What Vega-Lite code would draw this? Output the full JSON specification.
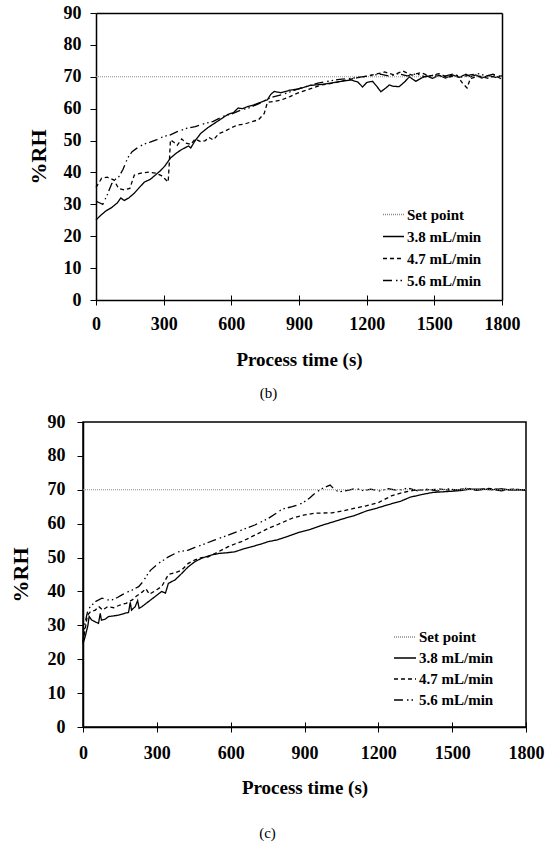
{
  "$schema": "https://vega.github.io/schema/vega-lite/v6.json",
  "padding": {"left": 8, "top": 4, "right": 0, "bottom": 0},
  "datasets": {
    "b": [
      {"t": 0, "v": 70, "s": "Set point"}, {"t": 1800, "v": 70, "s": "Set point"},
      {"t": 0, "v": 25.1, "s": "3.8 mL/min"}, {"t": 20, "v": 26.5, "s": "3.8 mL/min"}, {"t": 45, "v": 28, "s": "3.8 mL/min"}, {"t": 70, "v": 29, "s": "3.8 mL/min"},
      {"t": 95, "v": 30.5, "s": "3.8 mL/min"}, {"t": 110, "v": 32, "s": "3.8 mL/min"}, {"t": 125, "v": 31.2, "s": "3.8 mL/min"}, {"t": 145, "v": 32, "s": "3.8 mL/min"},
      {"t": 170, "v": 33.5, "s": "3.8 mL/min"}, {"t": 195, "v": 35.5, "s": "3.8 mL/min"}, {"t": 215, "v": 37, "s": "3.8 mL/min"}, {"t": 240, "v": 37.8, "s": "3.8 mL/min"},
      {"t": 260, "v": 39, "s": "3.8 mL/min"}, {"t": 285, "v": 40.5, "s": "3.8 mL/min"}, {"t": 305, "v": 42, "s": "3.8 mL/min"}, {"t": 330, "v": 44.5, "s": "3.8 mL/min"},
      {"t": 355, "v": 46, "s": "3.8 mL/min"}, {"t": 380, "v": 47.2, "s": "3.8 mL/min"}, {"t": 410, "v": 48.3, "s": "3.8 mL/min"}, {"t": 420, "v": 47.7, "s": "3.8 mL/min"},
      {"t": 440, "v": 50, "s": "3.8 mL/min"}, {"t": 465, "v": 52.3, "s": "3.8 mL/min"}, {"t": 495, "v": 54, "s": "3.8 mL/min"}, {"t": 525, "v": 55.4, "s": "3.8 mL/min"},
      {"t": 555, "v": 56.8, "s": "3.8 mL/min"}, {"t": 585, "v": 58.2, "s": "3.8 mL/min"}, {"t": 610, "v": 58.8, "s": "3.8 mL/min"}, {"t": 630, "v": 60.2, "s": "3.8 mL/min"},
      {"t": 650, "v": 60, "s": "3.8 mL/min"}, {"t": 670, "v": 60.6, "s": "3.8 mL/min"}, {"t": 700, "v": 61.2, "s": "3.8 mL/min"}, {"t": 730, "v": 62, "s": "3.8 mL/min"},
      {"t": 760, "v": 62.8, "s": "3.8 mL/min"}, {"t": 775, "v": 64.5, "s": "3.8 mL/min"}, {"t": 790, "v": 65.4, "s": "3.8 mL/min"}, {"t": 820, "v": 65, "s": "3.8 mL/min"},
      {"t": 860, "v": 65.8, "s": "3.8 mL/min"}, {"t": 900, "v": 66.2, "s": "3.8 mL/min"}, {"t": 950, "v": 67.3, "s": "3.8 mL/min"}, {"t": 1000, "v": 67.6, "s": "3.8 mL/min"},
      {"t": 1040, "v": 68, "s": "3.8 mL/min"}, {"t": 1080, "v": 68.5, "s": "3.8 mL/min"}, {"t": 1130, "v": 69, "s": "3.8 mL/min"}, {"t": 1160, "v": 68.4, "s": "3.8 mL/min"},
      {"t": 1182, "v": 66.8, "s": "3.8 mL/min"}, {"t": 1200, "v": 68.2, "s": "3.8 mL/min"}, {"t": 1226, "v": 68.6, "s": "3.8 mL/min"}, {"t": 1245, "v": 67, "s": "3.8 mL/min"},
      {"t": 1263, "v": 65.3, "s": "3.8 mL/min"}, {"t": 1285, "v": 66.5, "s": "3.8 mL/min"}, {"t": 1300, "v": 67.4, "s": "3.8 mL/min"}, {"t": 1320, "v": 67, "s": "3.8 mL/min"},
      {"t": 1344, "v": 66.9, "s": "3.8 mL/min"}, {"t": 1370, "v": 68.5, "s": "3.8 mL/min"}, {"t": 1389, "v": 70, "s": "3.8 mL/min"}, {"t": 1405, "v": 69.2, "s": "3.8 mL/min"},
      {"t": 1418, "v": 68.6, "s": "3.8 mL/min"}, {"t": 1440, "v": 69.5, "s": "3.8 mL/min"}, {"t": 1465, "v": 70.3, "s": "3.8 mL/min"}, {"t": 1492, "v": 69.5, "s": "3.8 mL/min"},
      {"t": 1520, "v": 70.5, "s": "3.8 mL/min"}, {"t": 1550, "v": 69.6, "s": "3.8 mL/min"}, {"t": 1580, "v": 70.6, "s": "3.8 mL/min"}, {"t": 1610, "v": 69.8, "s": "3.8 mL/min"},
      {"t": 1640, "v": 70.8, "s": "3.8 mL/min"}, {"t": 1660, "v": 70, "s": "3.8 mL/min"}, {"t": 1684, "v": 70.6, "s": "3.8 mL/min"}, {"t": 1710, "v": 69.6, "s": "3.8 mL/min"},
      {"t": 1740, "v": 70.4, "s": "3.8 mL/min"}, {"t": 1770, "v": 69.8, "s": "3.8 mL/min"}, {"t": 1800, "v": 70.3, "s": "3.8 mL/min"},
      {"t": 0, "v": 35.3, "s": "4.7 mL/min"}, {"t": 15, "v": 37, "s": "4.7 mL/min"}, {"t": 25, "v": 38.2, "s": "4.7 mL/min"}, {"t": 50, "v": 38.5, "s": "4.7 mL/min"},
      {"t": 80, "v": 37.6, "s": "4.7 mL/min"}, {"t": 100, "v": 35, "s": "4.7 mL/min"}, {"t": 125, "v": 34.5, "s": "4.7 mL/min"}, {"t": 150, "v": 35, "s": "4.7 mL/min"},
      {"t": 170, "v": 39.2, "s": "4.7 mL/min"}, {"t": 200, "v": 39.8, "s": "4.7 mL/min"}, {"t": 235, "v": 40.1, "s": "4.7 mL/min"}, {"t": 265, "v": 39.8, "s": "4.7 mL/min"},
      {"t": 290, "v": 39, "s": "4.7 mL/min"}, {"t": 305, "v": 38, "s": "4.7 mL/min"}, {"t": 320, "v": 37, "s": "4.7 mL/min"}, {"t": 325, "v": 43, "s": "4.7 mL/min"},
      {"t": 330, "v": 50.2, "s": "4.7 mL/min"}, {"t": 345, "v": 49.5, "s": "4.7 mL/min"}, {"t": 360, "v": 48.5, "s": "4.7 mL/min"}, {"t": 380, "v": 50.5, "s": "4.7 mL/min"},
      {"t": 400, "v": 49.2, "s": "4.7 mL/min"}, {"t": 420, "v": 48.8, "s": "4.7 mL/min"}, {"t": 440, "v": 50.5, "s": "4.7 mL/min"}, {"t": 465, "v": 49.6, "s": "4.7 mL/min"},
      {"t": 485, "v": 50, "s": "4.7 mL/min"}, {"t": 500, "v": 51, "s": "4.7 mL/min"}, {"t": 520, "v": 50.2, "s": "4.7 mL/min"}, {"t": 545, "v": 52.2, "s": "4.7 mL/min"},
      {"t": 568, "v": 52.8, "s": "4.7 mL/min"}, {"t": 600, "v": 54, "s": "4.7 mL/min"}, {"t": 628, "v": 54.9, "s": "4.7 mL/min"}, {"t": 660, "v": 55.2, "s": "4.7 mL/min"},
      {"t": 690, "v": 55.9, "s": "4.7 mL/min"}, {"t": 720, "v": 56.5, "s": "4.7 mL/min"}, {"t": 746, "v": 58.5, "s": "4.7 mL/min"}, {"t": 760, "v": 62, "s": "4.7 mL/min"},
      {"t": 790, "v": 62.3, "s": "4.7 mL/min"}, {"t": 820, "v": 62.7, "s": "4.7 mL/min"}, {"t": 860, "v": 63.8, "s": "4.7 mL/min"}, {"t": 894, "v": 64.9, "s": "4.7 mL/min"},
      {"t": 940, "v": 66, "s": "4.7 mL/min"}, {"t": 997, "v": 67.4, "s": "4.7 mL/min"}, {"t": 1050, "v": 68, "s": "4.7 mL/min"}, {"t": 1100, "v": 68.8, "s": "4.7 mL/min"},
      {"t": 1160, "v": 69.7, "s": "4.7 mL/min"}, {"t": 1200, "v": 70.2, "s": "4.7 mL/min"}, {"t": 1240, "v": 70.8, "s": "4.7 mL/min"}, {"t": 1280, "v": 71.5, "s": "4.7 mL/min"},
      {"t": 1320, "v": 70.6, "s": "4.7 mL/min"}, {"t": 1360, "v": 71.8, "s": "4.7 mL/min"}, {"t": 1400, "v": 70.5, "s": "4.7 mL/min"}, {"t": 1440, "v": 71.3, "s": "4.7 mL/min"},
      {"t": 1480, "v": 70.2, "s": "4.7 mL/min"}, {"t": 1520, "v": 71, "s": "4.7 mL/min"}, {"t": 1560, "v": 69.8, "s": "4.7 mL/min"}, {"t": 1600, "v": 70.5, "s": "4.7 mL/min"},
      {"t": 1625, "v": 68, "s": "4.7 mL/min"}, {"t": 1645, "v": 66.5, "s": "4.7 mL/min"}, {"t": 1660, "v": 69.5, "s": "4.7 mL/min"}, {"t": 1700, "v": 70.2, "s": "4.7 mL/min"},
      {"t": 1740, "v": 69.5, "s": "4.7 mL/min"}, {"t": 1770, "v": 70.4, "s": "4.7 mL/min"}, {"t": 1800, "v": 69.2, "s": "4.7 mL/min"},
      {"t": 0, "v": 31, "s": "5.6 mL/min"}, {"t": 15, "v": 30.5, "s": "5.6 mL/min"}, {"t": 30, "v": 30, "s": "5.6 mL/min"}, {"t": 50, "v": 33, "s": "5.6 mL/min"},
      {"t": 70, "v": 36.5, "s": "5.6 mL/min"}, {"t": 85, "v": 37.8, "s": "5.6 mL/min"}, {"t": 100, "v": 38.5, "s": "5.6 mL/min"}, {"t": 120, "v": 41, "s": "5.6 mL/min"},
      {"t": 140, "v": 44.5, "s": "5.6 mL/min"}, {"t": 160, "v": 46.5, "s": "5.6 mL/min"}, {"t": 185, "v": 47.8, "s": "5.6 mL/min"}, {"t": 210, "v": 48.8, "s": "5.6 mL/min"},
      {"t": 240, "v": 49.5, "s": "5.6 mL/min"}, {"t": 270, "v": 50.3, "s": "5.6 mL/min"}, {"t": 300, "v": 51.3, "s": "5.6 mL/min"}, {"t": 330, "v": 51.8, "s": "5.6 mL/min"},
      {"t": 360, "v": 52.8, "s": "5.6 mL/min"}, {"t": 400, "v": 53.8, "s": "5.6 mL/min"}, {"t": 440, "v": 54.4, "s": "5.6 mL/min"}, {"t": 480, "v": 55.3, "s": "5.6 mL/min"},
      {"t": 520, "v": 56, "s": "5.6 mL/min"}, {"t": 560, "v": 57.5, "s": "5.6 mL/min"}, {"t": 600, "v": 58.3, "s": "5.6 mL/min"}, {"t": 640, "v": 59.5, "s": "5.6 mL/min"},
      {"t": 680, "v": 60.3, "s": "5.6 mL/min"}, {"t": 720, "v": 61.5, "s": "5.6 mL/min"}, {"t": 760, "v": 63, "s": "5.6 mL/min"}, {"t": 790, "v": 63.8, "s": "5.6 mL/min"},
      {"t": 830, "v": 64.5, "s": "5.6 mL/min"}, {"t": 870, "v": 65.5, "s": "5.6 mL/min"}, {"t": 909, "v": 66.5, "s": "5.6 mL/min"}, {"t": 950, "v": 67.3, "s": "5.6 mL/min"},
      {"t": 984, "v": 68, "s": "5.6 mL/min"}, {"t": 1030, "v": 68.6, "s": "5.6 mL/min"}, {"t": 1080, "v": 69.2, "s": "5.6 mL/min"}, {"t": 1130, "v": 69.5, "s": "5.6 mL/min"},
      {"t": 1180, "v": 70, "s": "5.6 mL/min"}, {"t": 1220, "v": 70.4, "s": "5.6 mL/min"}, {"t": 1260, "v": 70.8, "s": "5.6 mL/min"}, {"t": 1300, "v": 70.2, "s": "5.6 mL/min"},
      {"t": 1340, "v": 71, "s": "5.6 mL/min"}, {"t": 1380, "v": 70.3, "s": "5.6 mL/min"}, {"t": 1420, "v": 70.9, "s": "5.6 mL/min"}, {"t": 1460, "v": 70, "s": "5.6 mL/min"},
      {"t": 1500, "v": 70.6, "s": "5.6 mL/min"}, {"t": 1540, "v": 70.1, "s": "5.6 mL/min"}, {"t": 1580, "v": 70.8, "s": "5.6 mL/min"}, {"t": 1620, "v": 69.9, "s": "5.6 mL/min"},
      {"t": 1660, "v": 70.6, "s": "5.6 mL/min"}, {"t": 1700, "v": 71, "s": "5.6 mL/min"}, {"t": 1730, "v": 70.2, "s": "5.6 mL/min"}, {"t": 1760, "v": 70.8, "s": "5.6 mL/min"},
      {"t": 1800, "v": 70, "s": "5.6 mL/min"}
    ],
    "c": [
      {"t": 0, "v": 70, "s": "Set point"}, {"t": 1800, "v": 70, "s": "Set point"},
      {"t": 0, "v": 24.5, "s": "3.8 mL/min"}, {"t": 10, "v": 27, "s": "3.8 mL/min"}, {"t": 20, "v": 30, "s": "3.8 mL/min"}, {"t": 25, "v": 32.6, "s": "3.8 mL/min"},
      {"t": 35, "v": 31.6, "s": "3.8 mL/min"}, {"t": 50, "v": 31, "s": "3.8 mL/min"}, {"t": 63, "v": 30.6, "s": "3.8 mL/min"}, {"t": 70, "v": 33.5, "s": "3.8 mL/min"},
      {"t": 75, "v": 31.5, "s": "3.8 mL/min"}, {"t": 90, "v": 31.8, "s": "3.8 mL/min"}, {"t": 104, "v": 32.6, "s": "3.8 mL/min"}, {"t": 125, "v": 32.8, "s": "3.8 mL/min"},
      {"t": 145, "v": 33, "s": "3.8 mL/min"}, {"t": 172, "v": 33.6, "s": "3.8 mL/min"}, {"t": 185, "v": 33.8, "s": "3.8 mL/min"}, {"t": 192, "v": 36.8, "s": "3.8 mL/min"},
      {"t": 197, "v": 34.5, "s": "3.8 mL/min"}, {"t": 212, "v": 35.5, "s": "3.8 mL/min"}, {"t": 222, "v": 37.3, "s": "3.8 mL/min"}, {"t": 228, "v": 35, "s": "3.8 mL/min"},
      {"t": 239, "v": 35.5, "s": "3.8 mL/min"}, {"t": 266, "v": 37, "s": "3.8 mL/min"}, {"t": 293, "v": 38.5, "s": "3.8 mL/min"}, {"t": 320, "v": 40, "s": "3.8 mL/min"},
      {"t": 335, "v": 39.5, "s": "3.8 mL/min"}, {"t": 347, "v": 42.4, "s": "3.8 mL/min"}, {"t": 374, "v": 43.4, "s": "3.8 mL/min"}, {"t": 401, "v": 45.3, "s": "3.8 mL/min"},
      {"t": 428, "v": 47.3, "s": "3.8 mL/min"}, {"t": 455, "v": 48.8, "s": "3.8 mL/min"}, {"t": 482, "v": 49.8, "s": "3.8 mL/min"}, {"t": 515, "v": 50.6, "s": "3.8 mL/min"},
      {"t": 550, "v": 51.2, "s": "3.8 mL/min"}, {"t": 583, "v": 51.4, "s": "3.8 mL/min"}, {"t": 617, "v": 51.7, "s": "3.8 mL/min"}, {"t": 650, "v": 52.5, "s": "3.8 mL/min"},
      {"t": 685, "v": 53.2, "s": "3.8 mL/min"}, {"t": 720, "v": 53.9, "s": "3.8 mL/min"}, {"t": 753, "v": 54.7, "s": "3.8 mL/min"}, {"t": 788, "v": 55.2, "s": "3.8 mL/min"},
      {"t": 830, "v": 56.2, "s": "3.8 mL/min"}, {"t": 880, "v": 57.5, "s": "3.8 mL/min"}, {"t": 923, "v": 58.3, "s": "3.8 mL/min"}, {"t": 970, "v": 59.5, "s": "3.8 mL/min"},
      {"t": 1020, "v": 60.6, "s": "3.8 mL/min"}, {"t": 1059, "v": 61.5, "s": "3.8 mL/min"}, {"t": 1100, "v": 62.3, "s": "3.8 mL/min"}, {"t": 1150, "v": 63.7, "s": "3.8 mL/min"},
      {"t": 1195, "v": 64.6, "s": "3.8 mL/min"}, {"t": 1240, "v": 65.6, "s": "3.8 mL/min"}, {"t": 1290, "v": 66.6, "s": "3.8 mL/min"}, {"t": 1329, "v": 67.8, "s": "3.8 mL/min"},
      {"t": 1377, "v": 68.6, "s": "3.8 mL/min"}, {"t": 1420, "v": 69.2, "s": "3.8 mL/min"}, {"t": 1486, "v": 69.5, "s": "3.8 mL/min"}, {"t": 1540, "v": 69.8, "s": "3.8 mL/min"},
      {"t": 1572, "v": 70.2, "s": "3.8 mL/min"}, {"t": 1621, "v": 70.2, "s": "3.8 mL/min"}, {"t": 1660, "v": 70, "s": "3.8 mL/min"}, {"t": 1700, "v": 70.3, "s": "3.8 mL/min"},
      {"t": 1740, "v": 69.9, "s": "3.8 mL/min"}, {"t": 1800, "v": 70, "s": "3.8 mL/min"},
      {"t": 0, "v": 25, "s": "4.7 mL/min"}, {"t": 8, "v": 28.5, "s": "4.7 mL/min"}, {"t": 18, "v": 33, "s": "4.7 mL/min"}, {"t": 30, "v": 34, "s": "4.7 mL/min"},
      {"t": 50, "v": 34.5, "s": "4.7 mL/min"}, {"t": 65, "v": 35.5, "s": "4.7 mL/min"}, {"t": 80, "v": 34.5, "s": "4.7 mL/min"}, {"t": 100, "v": 35.5, "s": "4.7 mL/min"},
      {"t": 125, "v": 35.2, "s": "4.7 mL/min"}, {"t": 150, "v": 36, "s": "4.7 mL/min"}, {"t": 175, "v": 36.5, "s": "4.7 mL/min"}, {"t": 200, "v": 37.5, "s": "4.7 mL/min"},
      {"t": 215, "v": 38.5, "s": "4.7 mL/min"}, {"t": 240, "v": 39.8, "s": "4.7 mL/min"}, {"t": 255, "v": 40.8, "s": "4.7 mL/min"}, {"t": 270, "v": 39.2, "s": "4.7 mL/min"},
      {"t": 300, "v": 40.5, "s": "4.7 mL/min"}, {"t": 320, "v": 41.5, "s": "4.7 mL/min"}, {"t": 335, "v": 43.4, "s": "4.7 mL/min"}, {"t": 347, "v": 45, "s": "4.7 mL/min"},
      {"t": 374, "v": 45.5, "s": "4.7 mL/min"}, {"t": 401, "v": 46.3, "s": "4.7 mL/min"}, {"t": 428, "v": 48.3, "s": "4.7 mL/min"}, {"t": 455, "v": 49.3, "s": "4.7 mL/min"},
      {"t": 482, "v": 50, "s": "4.7 mL/min"}, {"t": 509, "v": 50.2, "s": "4.7 mL/min"}, {"t": 536, "v": 51.2, "s": "4.7 mL/min"}, {"t": 563, "v": 52.2, "s": "4.7 mL/min"},
      {"t": 590, "v": 53.2, "s": "4.7 mL/min"}, {"t": 617, "v": 54, "s": "4.7 mL/min"}, {"t": 644, "v": 54.7, "s": "4.7 mL/min"}, {"t": 670, "v": 55.6, "s": "4.7 mL/min"},
      {"t": 698, "v": 56.6, "s": "4.7 mL/min"}, {"t": 725, "v": 57.6, "s": "4.7 mL/min"}, {"t": 752, "v": 58.6, "s": "4.7 mL/min"}, {"t": 787, "v": 59.6, "s": "4.7 mL/min"},
      {"t": 809, "v": 60.3, "s": "4.7 mL/min"}, {"t": 850, "v": 61.6, "s": "4.7 mL/min"}, {"t": 900, "v": 62.6, "s": "4.7 mL/min"}, {"t": 944, "v": 63.1, "s": "4.7 mL/min"},
      {"t": 1012, "v": 63.2, "s": "4.7 mL/min"}, {"t": 1060, "v": 63.8, "s": "4.7 mL/min"}, {"t": 1100, "v": 64.5, "s": "4.7 mL/min"}, {"t": 1147, "v": 65.2, "s": "4.7 mL/min"},
      {"t": 1200, "v": 66.2, "s": "4.7 mL/min"}, {"t": 1256, "v": 68.3, "s": "4.7 mL/min"}, {"t": 1300, "v": 69.2, "s": "4.7 mL/min"}, {"t": 1350, "v": 69.9, "s": "4.7 mL/min"},
      {"t": 1400, "v": 70, "s": "4.7 mL/min"}, {"t": 1450, "v": 70.2, "s": "4.7 mL/min"}, {"t": 1500, "v": 69.8, "s": "4.7 mL/min"}, {"t": 1550, "v": 70.3, "s": "4.7 mL/min"},
      {"t": 1600, "v": 70, "s": "4.7 mL/min"}, {"t": 1650, "v": 70.4, "s": "4.7 mL/min"}, {"t": 1700, "v": 69.9, "s": "4.7 mL/min"}, {"t": 1750, "v": 70.2, "s": "4.7 mL/min"},
      {"t": 1800, "v": 69.8, "s": "4.7 mL/min"},
      {"t": 0, "v": 25, "s": "5.6 mL/min"}, {"t": 8, "v": 30.6, "s": "5.6 mL/min"}, {"t": 20, "v": 34.5, "s": "5.6 mL/min"}, {"t": 30, "v": 35.5, "s": "5.6 mL/min"},
      {"t": 50, "v": 37, "s": "5.6 mL/min"}, {"t": 77, "v": 38, "s": "5.6 mL/min"}, {"t": 100, "v": 37.5, "s": "5.6 mL/min"}, {"t": 118, "v": 37.5, "s": "5.6 mL/min"},
      {"t": 140, "v": 38.2, "s": "5.6 mL/min"}, {"t": 158, "v": 39, "s": "5.6 mL/min"}, {"t": 180, "v": 39.8, "s": "5.6 mL/min"}, {"t": 199, "v": 40.4, "s": "5.6 mL/min"},
      {"t": 226, "v": 41.4, "s": "5.6 mL/min"}, {"t": 245, "v": 43, "s": "5.6 mL/min"}, {"t": 260, "v": 44.8, "s": "5.6 mL/min"}, {"t": 275, "v": 46.3, "s": "5.6 mL/min"},
      {"t": 307, "v": 48.3, "s": "5.6 mL/min"}, {"t": 347, "v": 50.2, "s": "5.6 mL/min"}, {"t": 388, "v": 51.7, "s": "5.6 mL/min"}, {"t": 428, "v": 52.2, "s": "5.6 mL/min"},
      {"t": 455, "v": 53, "s": "5.6 mL/min"}, {"t": 482, "v": 53.7, "s": "5.6 mL/min"}, {"t": 536, "v": 55.2, "s": "5.6 mL/min"}, {"t": 590, "v": 56.6, "s": "5.6 mL/min"},
      {"t": 644, "v": 58.1, "s": "5.6 mL/min"}, {"t": 698, "v": 59.6, "s": "5.6 mL/min"}, {"t": 752, "v": 61.5, "s": "5.6 mL/min"}, {"t": 788, "v": 63.2, "s": "5.6 mL/min"},
      {"t": 809, "v": 64.3, "s": "5.6 mL/min"}, {"t": 850, "v": 65, "s": "5.6 mL/min"}, {"t": 890, "v": 66, "s": "5.6 mL/min"}, {"t": 920, "v": 67.5, "s": "5.6 mL/min"},
      {"t": 944, "v": 69.1, "s": "5.6 mL/min"}, {"t": 970, "v": 70.3, "s": "5.6 mL/min"}, {"t": 1004, "v": 71.4, "s": "5.6 mL/min"}, {"t": 1020, "v": 70.2, "s": "5.6 mL/min"},
      {"t": 1039, "v": 69.4, "s": "5.6 mL/min"}, {"t": 1060, "v": 69.6, "s": "5.6 mL/min"}, {"t": 1080, "v": 69.9, "s": "5.6 mL/min"}, {"t": 1110, "v": 70.4, "s": "5.6 mL/min"},
      {"t": 1140, "v": 69.7, "s": "5.6 mL/min"}, {"t": 1170, "v": 70.2, "s": "5.6 mL/min"}, {"t": 1200, "v": 69.6, "s": "5.6 mL/min"}, {"t": 1240, "v": 70.3, "s": "5.6 mL/min"},
      {"t": 1280, "v": 69.8, "s": "5.6 mL/min"}, {"t": 1320, "v": 70.5, "s": "5.6 mL/min"}, {"t": 1360, "v": 69.7, "s": "5.6 mL/min"}, {"t": 1400, "v": 70.2, "s": "5.6 mL/min"},
      {"t": 1440, "v": 69.6, "s": "5.6 mL/min"}, {"t": 1480, "v": 70.3, "s": "5.6 mL/min"}, {"t": 1520, "v": 69.9, "s": "5.6 mL/min"}, {"t": 1560, "v": 70.5, "s": "5.6 mL/min"},
      {"t": 1600, "v": 69.8, "s": "5.6 mL/min"}, {"t": 1650, "v": 70.3, "s": "5.6 mL/min"}, {"t": 1700, "v": 69.7, "s": "5.6 mL/min"}, {"t": 1750, "v": 70.2, "s": "5.6 mL/min"},
      {"t": 1800, "v": 69.9, "s": "5.6 mL/min"}
    ]
  },
  "vconcat": [
    {
      "width": 419,
      "height": 287,
      "view": {"stroke": null},
      "data": {"name": "b"},
      "title": {"text": "(b)", "orient": "bottom", "anchor": "middle", "dx": -24, "offset": 17},
      "encoding": {
        "color": {
          "field": "s", "type": "nominal",
          "scale": {"domain": ["Set point", "3.8 mL/min", "4.7 mL/min", "5.6 mL/min"], "range": ["#8c8c8c", "#000000", "#000000", "#000000"]}
        },
        "strokeDash": {
          "field": "s", "type": "nominal",
          "scale": {"domain": ["Set point", "3.8 mL/min", "4.7 mL/min", "5.6 mL/min"], "range": [[1, 1], [1, 0], [4, 3], [9, 4, 1.5, 3, 1.5, 3]]},
          "legend": {"orient": "none", "legendX": 299, "legendY": 190, "symbolType": "stroke", "symbolSize": 441, "title": null, "labelOffset": 2, "rowPadding": 2}
        }
      },
      "layer": [
        {
          "transform": [{"filter": "datum.s === '3.8 mL/min'"}],
          "mark": {"type": "line", "strokeWidth": 1.3},
          "encoding": {
            "x": {
              "field": "t", "type": "quantitative",
              "scale": {"domain": [0, 1800], "nice": false, "range": [13, 419]},
              "axis": {"orient": "bottom", "values": [0, 300, 600, 900, 1200, 1500, 1800], "format": "d", "tickSize": 5, "labelPadding": 10, "title": "Process time (s)", "titlePadding": 17}
            },
            "y": {
              "field": "v", "type": "quantitative",
              "scale": {"domain": [0, 90], "nice": false},
              "axis": {"orient": "left", "offset": -13, "values": [0, 10, 20, 30, 40, 50, 60, 70, 80, 90], "tickSize": 6, "labelPadding": 9, "title": "%RH", "titlePadding": 13}
            }
          }
        },
        {
          "transform": [{"filter": "datum.s === 'Set point'"}],
          "mark": {"type": "line", "strokeWidth": 1},
          "encoding": {
            "x": {
              "field": "t", "type": "quantitative",
              "scale": {"domain": [0, 1800], "nice": false, "range": [13, 419]},
              "axis": {"orient": "bottom", "values": [0, 300, 600, 900, 1200, 1500, 1800], "tickSize": -5, "labels": false, "domain": false, "title": null}
            },
            "y": {
              "field": "v", "type": "quantitative",
              "scale": {"domain": [0, 90], "nice": false},
              "axis": {"orient": "right", "ticks": false, "labels": false, "title": null}
            }
          }
        },
        {
          "transform": [{"filter": "datum.s === '4.7 mL/min' || datum.s === '5.6 mL/min'"}],
          "mark": {"type": "line", "strokeWidth": 1.3},
          "encoding": {
            "x": {
              "field": "t", "type": "quantitative",
              "scale": {"domain": [0, 1800], "nice": false, "range": [13, 419]},
              "axis": {"orient": "top", "ticks": false, "labels": false, "title": null}
            },
            "y": {
              "field": "v", "type": "quantitative",
              "scale": {"domain": [0, 90], "nice": false},
              "axis": null
            }
          }
        }
      ],
      "resolve": {"axis": {"x": "independent", "y": "independent"}}
    },
    {
      "width": 443,
      "height": 305,
      "data": {"name": "c"},
      "title": {"text": "(c)", "orient": "bottom", "anchor": "middle", "dx": -37, "offset": 29},
      "encoding": {
        "y": {
          "field": "v", "type": "quantitative",
          "scale": {"domain": [0, 90], "nice": false},
          "axis": {"values": [0, 10, 20, 30, 40, 50, 60, 70, 80, 90], "tickSize": 6, "labelPadding": 12, "title": "%RH", "titlePadding": 15}
        },
        "color": {
          "field": "s", "type": "nominal",
          "scale": {"domain": ["Set point", "3.8 mL/min", "4.7 mL/min", "5.6 mL/min"], "range": ["#8c8c8c", "#000000", "#000000", "#000000"]}
        },
        "strokeDash": {
          "field": "s", "type": "nominal",
          "scale": {"domain": ["Set point", "3.8 mL/min", "4.7 mL/min", "5.6 mL/min"], "range": [[1, 1], [1, 0], [4, 3], [9, 4, 1.5, 3, 1.5, 3]]},
          "legend": {"orient": "none", "legendX": 310, "legendY": 203, "symbolType": "stroke", "symbolSize": 484, "title": null, "labelOffset": 2, "rowPadding": 1}
        }
      },
      "layer": [
        {
          "transform": [{"filter": "datum.s !== 'Set point'"}],
          "mark": {"type": "line", "strokeWidth": 1.3},
          "encoding": {
            "x": {
              "field": "t", "type": "quantitative",
              "scale": {"domain": [0, 1800], "nice": false},
              "axis": {"orient": "bottom", "values": [0, 300, 600, 900, 1200, 1500, 1800], "format": "d", "tickSize": 5, "labelPadding": 12, "title": "Process time (s)", "titlePadding": 16}
            }
          }
        },
        {
          "transform": [{"filter": "datum.s === 'Set point'"}],
          "mark": {"type": "line", "strokeWidth": 1},
          "encoding": {
            "x": {
              "field": "t", "type": "quantitative",
              "axis": {"orient": "bottom", "values": [0, 300, 600, 900, 1200, 1500, 1800], "tickSize": -5, "labels": false, "domain": false, "title": null}
            }
          }
        }
      ],
      "resolve": {"axis": {"x": "independent"}}
    }
  ],
  "spacing": 11,
  "resolve": {
    "scale": {"x": "independent", "y": "independent", "color": "independent", "strokeDash": "independent"},
    "legend": {"color": "independent", "strokeDash": "independent"}
  },
  "config": {
    "font": "Liberation Serif",
    "view": {"stroke": "#000000", "strokeWidth": 1.5},
    "axis": {
      "grid": false,
      "labelFont": "Liberation Serif", "labelFontWeight": "bold", "labelFontSize": 18, "labelColor": "#000000",
      "labelFlush": false, "labelOverlap": false,
      "titleFont": "Liberation Serif", "titleFontWeight": "bold", "titleColor": "#000000",
      "domainColor": "#000000", "domainWidth": 1.5, "tickColor": "#000000", "tickWidth": 1
    },
    "axisX": {"titleFontSize": 19},
    "axisY": {"titleFontSize": 22},
    "legend": {"labelFont": "Liberation Serif", "labelFontWeight": "bold", "labelFontSize": 15, "labelColor": "#000000", "symbolStrokeWidth": 1.5},
    "title": {"font": "Liberation Serif", "fontWeight": "normal", "fontSize": 15, "color": "#000000"}
  }
}
